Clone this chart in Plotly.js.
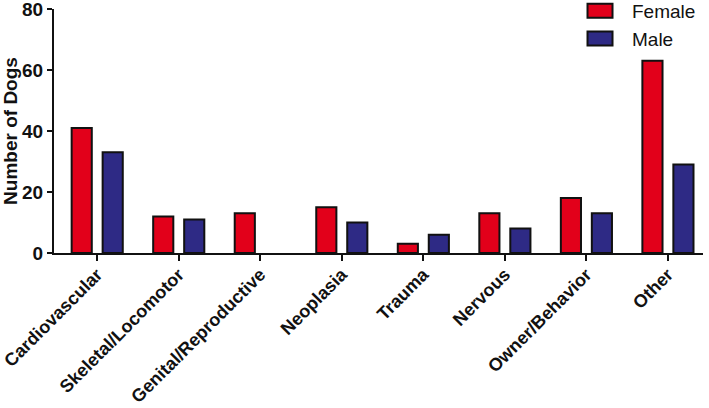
<!DOCTYPE html>
<html>
<head>
<meta charset="utf-8">
<script src="https://cdn.plot.ly/plotly-3.0.1.min.js"></script>
<style>
  html, body { margin: 0; padding: 0; background: #fff; }
  #chart { width: 709px; height: 408px; }
</style>
</head>
<body>
<div id="chart"></div>
<script>
var categories = ['Cardiovascular', 'Skeletal/Locomotor', 'Genital/Reproductive', 'Neoplasia',
                  'Trauma', 'Nervous', 'Owner/Behavior', 'Other'];
var femaleDogs = [41, 12, 13, 15, 3, 13, 18, 63];
var maleDogs = [33, 11, 0, 10, 6, 8, 13, 29];
var yTicks = [0, 20, 40, 60, 80];

var font = 'Liberation Sans, Arial, sans-serif';

// no outline on empty bars
function outline(vals) {
    return vals.map(function(v) { return v ? 2 : 0; });
}

var female = {
    x: categories,
    y: femaleDogs,
    type: 'bar',
    name: 'Female',
    marker: { color: '#e2001a', line: { color: '#111', width: outline(femaleDogs) } }
};
var male = {
    x: categories,
    y: maleDogs,
    type: 'bar',
    name: 'Male',
    marker: { color: '#2e2a85', line: { color: '#111', width: outline(maleDogs) } }
};

var layout = {
    width: 709,
    height: 408,
    margin: { l: 54, r: 6, t: 9, b: 155, autoexpand: false },
    paper_bgcolor: '#fff',
    plot_bgcolor: '#fff',
    barmode: 'group',
    bargap: 0.24,
    bargroupgap: 0.35,
    showlegend: true,
    legend: {
        x: 0.792, y: 1.07, xanchor: 'left', yanchor: 'top',
        font: { family: font, size: 19, color: '#111' },
        itemwidth: 54,
        tracegroupgap: 0,
        bgcolor: 'rgba(0,0,0,0)'
    },
    xaxis: {
        type: 'category',
        range: [-0.53, 7.43],
        showline: true, linecolor: '#111', linewidth: 2,
        ticks: 'outside', ticklen: 6, tickwidth: 2, tickcolor: '#111',
        tickangle: -45,
        ticklabelstandoff: -4,
        ticklabeloverflow: 'allow',
        tickfont: { family: font, size: 18, color: '#111', weight: 'bold' },
        showgrid: false, zeroline: false, fixedrange: true
    },
    yaxis: {
        range: [0, 80],
        tickvals: yTicks,
        showline: true, linecolor: '#111', linewidth: 2,
        ticks: 'outside', ticklen: 5, tickwidth: 2, tickcolor: '#111',
        ticklabeloverflow: 'allow',
        tickfont: { family: font, size: 19, color: '#111', weight: 'bold' },
        title: { text: 'Number of Dogs', standoff: 4,
                 font: { family: font, size: 19, color: '#111', weight: 'bold' } },
        showgrid: false, zeroline: false, fixedrange: true
    }
};

Plotly.newPlot('chart', [female, male], layout, { displayModeBar: false, staticPlot: true })
    .then(function(gd) {
        // wider legend swatches, like the original figure
        gd.querySelectorAll('.legend .legendpoints path').forEach(function(p) {
            p.setAttribute('d', 'M12.5,7H-12.5V-7H12.5Z');
        });
    });
</script>
</body>
</html>
